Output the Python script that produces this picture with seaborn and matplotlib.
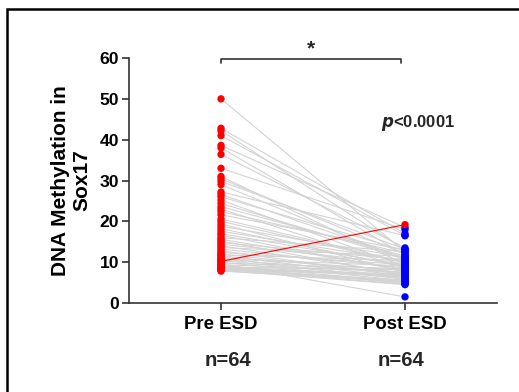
import numpy as np
import pandas as pd
import matplotlib
matplotlib.use("Agg")
import matplotlib.pyplot as plt
import seaborn as sns
from matplotlib.patches import Rectangle

# paired values (Pre ESD -> Post ESD)
groups = ["Pre ESD", "Post ESD"]
pre = [50.0, 42.8, 42.2, 41.0, 38.6, 38.0, 36.4, 33.0, 31.0, 30.4,
       29.8, 29.0, 27.2, 26.6, 26.0, 25.2, 24.4, 23.6, 23.0, 22.4,
       21.6, 20.6, 20.0, 19.4, 18.8, 18.2, 17.6, 17.0, 16.6, 16.0,
       15.6, 15.2, 14.8, 14.4, 14.0, 13.6, 13.2, 12.8, 12.4, 12.0,
       11.8, 11.6, 11.2, 11.0, 10.8, 10.6, 10.4, 10.2, 10.0, 9.8,
       9.6, 9.4, 9.2, 9.0, 8.9, 8.8, 8.6, 8.5, 8.4, 8.3,
       8.2, 8.1, 8.0, 7.8]
post = [12.5, 17.0, 13.0, 16.5, 18.5, 11.8, 13.5, 18.0, 9.5, 12.0,
        13.2, 10.5, 16.5, 11.0, 12.8, 9.0, 10.8, 11.5, 8.5, 12.2,
        13.0, 10.0, 9.8, 7.5, 11.2, 8.8, 10.2, 9.2, 7.8, 12.6,
        8.2, 6.8, 10.6, 9.6, 7.2, 11.4, 8.6, 6.5, 9.4, 7.0,
        10.4, 6.2, 8.0, 5.8, 9.1, 7.4, 6.0, 19.2, 5.5, 8.4,
        1.5, 7.6, 5.2, 6.6, 4.8, 8.1, 6.4, 5.0, 7.1, 4.6,
        5.6, 6.9, 4.5, 5.4]
outlier = 47  # the pair that rises (drawn in red)
n_labels = ["n=64", "n=64"]

ids = np.arange(len(pre))
df = pd.DataFrame({
    "id": np.concatenate([ids, ids]),
    "pos": [0] * len(pre) + [1] * len(post),
    "value": pre + post,
})
df["kind"] = np.where(df["pos"] == 0, "pre", "post")
df.loc[(df["id"] == outlier), "kind"] = "pre"

sns.set_style("ticks")
plt.rcParams["font.family"] = ["Liberation Sans", "DejaVu Sans"]
plt.rcParams["font.weight"] = "bold"

fig = plt.figure(figsize=(5.19, 3.92), dpi=100)
ax = fig.add_axes([0.2486, 0.227, 0.709, 0.625])

normal = df[df["id"] != outlier]
sns.lineplot(data=normal, x="pos", y="value", units="id", estimator=None,
             color="#d3d3d3", lw=0.8, ax=ax, legend=False)
sns.lineplot(data=df[df["id"] == outlier], x="pos", y="value", estimator=None,
             color="#ff0000", lw=0.8, ax=ax, legend=False)
sns.scatterplot(data=df, x="pos", y="value", hue="kind",
                palette={"pre": "#ff0000", "post": "#0000ff"},
                s=28, linewidth=0, ax=ax, legend=False, zorder=3)

ax.set_xlim(-0.5, 1.5)
ax.set_ylim(0, 60)
ax.set_yticks(range(0, 61, 10))
ax.set_xticks([0, 1])
ax.set_xticklabels(groups, fontsize=13.4, fontweight="bold")
ax.tick_params(axis="y", labelsize=12.6, length=5, width=1.2, color="#333333",
               labelcolor="black", pad=2)
ax.tick_params(axis="x", length=5, width=1.2, color="#333333", pad=4,
               labelcolor="black")
for lab in ax.get_yticklabels():
    lab.set_fontweight("bold")
ax.set_xlabel("")
ax.set_ylabel("DNA Methylation in\nSox17", fontsize=15, fontweight="bold",
              labelpad=6, linespacing=1.15, color="black")
for s in ["left", "bottom"]:
    ax.spines[s].set_linewidth(1.2)
    ax.spines[s].set_color("#333333")
sns.despine(ax=ax)
ax.spines["left"].set_bounds(0, 60)

# significance bracket
ax.plot([0, 0, 0.98, 0.98], [58.8, 59.8, 59.8, 58.8], color="#333333",
        lw=1.2, clip_on=False)
ax.text(0.49, 59.8, "*", ha="center", va="bottom", fontsize=15,
        fontweight="bold")
ax.text(0.87, 44, r"$\boldsymbol{p}$<0.0001", ha="left", va="center", fontsize=12,
        fontweight="bold")

for x, dx, t in zip([0, 1], [0.04, -0.02], n_labels):
    ax.text(x + dx, -14.2, t, ha="center", va="center", fontsize=14.6,
            fontweight="bold", transform=ax.transData, clip_on=False)

# outer frame of the panel
fig.patches.append(Rectangle((0.0135, -0.2), 1.2, 1.177, transform=fig.transFigure,
                             fill=False, ec="black", lw=1.8, zorder=10))

fig.savefig("out.png", dpi=100)
